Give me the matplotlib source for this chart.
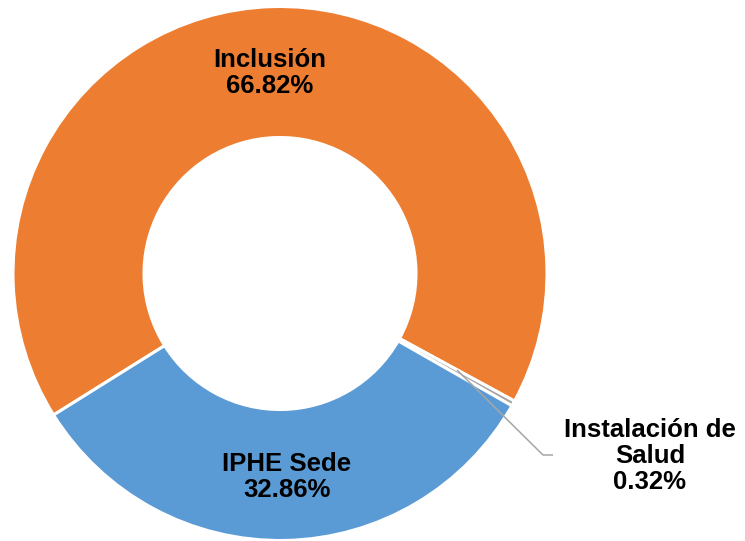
import matplotlib
matplotlib.use("Agg")
import matplotlib.pyplot as plt

categories = ["Inclusión", "Instalación de Salud", "IPHE Sede"]
values = [66.82, 0.32, 32.86]
colors = ["#ED7D31", "#A5A5A5", "#5B9BD5"]

W, H = 745, 541
fig = plt.figure(figsize=(W / 100, H / 100), dpi=100)
ax = fig.add_axes([0, 0, 1, 1])

cx, cy, R = 280, H - 273.5, 267
wedges, _ = ax.pie(values, colors=colors, startangle=212, counterclock=False,
                   center=(cx, cy), radius=R,
                   wedgeprops=dict(width=R - 136, edgecolor="white", linewidth=2.2))
ax.set_xlim(0, W)
ax.set_ylim(0, H)
ax.set_aspect("equal")
ax.axis("off")

font = dict(family=["Liberation Sans", "DejaVu Sans"], fontweight="bold",
            fontsize=18.5, color="black", ha="center", va="center", linespacing=1.12)

ax.text(270, H - 73, f"{categories[0]}\n{values[0]:.2f}%", **font)
ax.text(287, H - 477, f"{categories[2]}\n{values[2]:.2f}%", **font)
ax.text(650, H - 456, f"Instalación de\nSalud\n{values[1]:.2f}%", **font)

ax.plot([457, 543, 553], [H - 370, H - 455, H - 455], color="#A6A6A6", lw=1.1,
        solid_capstyle="butt")

fig.savefig("out.png", dpi=100)
